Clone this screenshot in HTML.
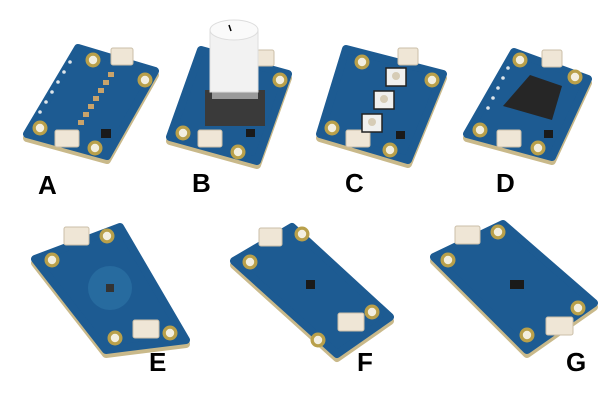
<!DOCTYPE html>
<html><head><meta charset="utf-8"><style>
html,body{margin:0;padding:0;background:#fff}
svg{display:block}
text{font-family:"Liberation Sans",sans-serif;font-weight:bold;fill:#000}
</style></head><body>
<svg width="600" height="400" viewBox="0 0 600 400">
<defs>
<g id="hole"><circle r="7.5" fill="#b9a04a"/><circle r="4.2" fill="#f3efe0"/></g>
</defs>
<g stroke-linejoin="round">
<polygon points="27,138 107,160 155,75 78,52" fill="#c9b98a" stroke="#c9b98a" stroke-width="8"/>
<polygon points="27,134 107,156 155,71 78,48" fill="#1d5b92" stroke="#1d5b92" stroke-width="8"/>
<polygon points="170,141 257,165 288,78 201,54" fill="#c9b98a" stroke="#c9b98a" stroke-width="8"/>
<polygon points="170,137 257,161 288,74 201,50" fill="#1d5b92" stroke="#1d5b92" stroke-width="8"/>
<polygon points="320,138 408,164 443,78 346,53" fill="#c9b98a" stroke="#c9b98a" stroke-width="8"/>
<polygon points="320,134 408,160 443,74 346,49" fill="#1d5b92" stroke="#1d5b92" stroke-width="8"/>
<polygon points="467,138 552,161 588,83 514,56" fill="#c9b98a" stroke="#c9b98a" stroke-width="8"/>
<polygon points="467,134 552,157 588,79 514,52" fill="#1d5b92" stroke="#1d5b92" stroke-width="8"/>
<polygon points="35,263 106,354 186,344 120,231" fill="#c9b98a" stroke="#c9b98a" stroke-width="8"/>
<polygon points="35,259 106,350 186,340 120,227" fill="#1d5b92" stroke="#1d5b92" stroke-width="8"/>
<polygon points="234,265 337,358 390,321 292,231" fill="#c9b98a" stroke="#c9b98a" stroke-width="8"/>
<polygon points="234,261 337,354 390,317 292,227" fill="#1d5b92" stroke="#1d5b92" stroke-width="8"/>
<polygon points="434,261 527,354 594,307 503,228" fill="#c9b98a" stroke="#c9b98a" stroke-width="8"/>
<polygon points="434,257 527,350 594,303 503,224" fill="#1d5b92" stroke="#1d5b92" stroke-width="8"/>
</g>
<g fill="#dfe6ea">
<circle cx="70" cy="62" r="1.8"/><circle cx="64" cy="72" r="1.8"/><circle cx="58" cy="82" r="1.8"/><circle cx="52" cy="92" r="1.8"/><circle cx="46" cy="102" r="1.8"/><circle cx="40" cy="112" r="1.8"/>
<circle cx="508" cy="68" r="1.8"/><circle cx="503" cy="78" r="1.8"/><circle cx="498" cy="88" r="1.8"/><circle cx="493" cy="98" r="1.8"/><circle cx="488" cy="108" r="1.8"/>
</g>
<use href="#hole" x="93" y="60"/><use href="#hole" x="145" y="80"/><use href="#hole" x="40" y="128"/><use href="#hole" x="95" y="148"/>
<use href="#hole" x="280" y="80"/><use href="#hole" x="183" y="133"/><use href="#hole" x="238" y="152"/>
<use href="#hole" x="362" y="62"/><use href="#hole" x="432" y="80"/><use href="#hole" x="332" y="128"/><use href="#hole" x="390" y="150"/>
<use href="#hole" x="520" y="60"/><use href="#hole" x="575" y="77"/><use href="#hole" x="480" y="130"/><use href="#hole" x="538" y="148"/>
<use href="#hole" x="52" y="260"/><use href="#hole" x="107" y="236"/><use href="#hole" x="170" y="333"/><use href="#hole" x="115" y="338"/>
<use href="#hole" x="250" y="262"/><use href="#hole" x="302" y="234"/><use href="#hole" x="372" y="312"/><use href="#hole" x="318" y="340"/>
<use href="#hole" x="448" y="260"/><use href="#hole" x="498" y="232"/><use href="#hole" x="578" y="308"/><use href="#hole" x="527" y="335"/>
<g fill="#efe6d6" stroke="#cbbfa8" stroke-width="1">
<rect x="111" y="48" width="22" height="17" rx="2"/><rect x="55" y="130" width="24" height="17" rx="2"/>
<rect x="257" y="50" width="17" height="16" rx="2"/><rect x="198" y="130" width="24" height="17" rx="2"/>
<rect x="398" y="48" width="20" height="17" rx="2"/><rect x="346" y="130" width="24" height="17" rx="2"/>
<rect x="542" y="50" width="20" height="17" rx="2"/><rect x="497" y="130" width="24" height="17" rx="2"/>
<rect x="64" y="227" width="25" height="18" rx="2"/><rect x="133" y="320" width="26" height="18" rx="2"/>
<rect x="259" y="228" width="23" height="18" rx="2"/><rect x="338" y="313" width="26" height="18" rx="2"/>
<rect x="455" y="226" width="25" height="18" rx="2"/><rect x="546" y="317" width="27" height="18" rx="2"/>
</g>
<g fill="#c9a36a"><rect x="108" y="72" width="6" height="5"/><rect x="103" y="80" width="6" height="5"/><rect x="98" y="88" width="6" height="5"/><rect x="93" y="96" width="6" height="5"/><rect x="88" y="104" width="6" height="5"/><rect x="83" y="112" width="6" height="5"/><rect x="78" y="120" width="6" height="5"/></g>
<rect x="101" y="129" width="10" height="9" fill="#1a1a1a"/>
<rect x="205" y="90" width="60" height="36" fill="#3a3a3a"/>
<rect x="212" y="85" width="46" height="14" fill="#9a9a9a"/>
<rect x="210" y="30" width="48" height="62" fill="#f2f2f2" stroke="#ddd"/>
<ellipse cx="234" cy="30" rx="24" ry="10" fill="#fafafa" stroke="#ddd"/>
<line x1="229" y1="25" x2="231" y2="31" stroke="#000" stroke-width="1.5"/>
<rect x="246" y="129" width="9" height="8" fill="#1a1a1a"/>
<g fill="#f0f0ee" stroke="#222" stroke-width="1.5">
<rect x="386" y="68" width="20" height="18"/><rect x="374" y="91" width="20" height="18"/><rect x="362" y="114" width="20" height="18"/></g>
<g fill="#d6ccb6"><circle cx="396" cy="76" r="4"/><circle cx="384" cy="99" r="4"/><circle cx="372" cy="122" r="4"/></g>
<rect x="396" y="131" width="9" height="8" fill="#1a1a1a"/>
<polygon points="530,75 562,86 552,120 503,106" fill="#262626"/>
<rect x="544" y="130" width="9" height="8" fill="#1a1a1a"/>
<circle cx="110" cy="288" r="22" fill="#2a6fa3" opacity="0.8"/>
<rect x="106" y="284" width="8" height="8" fill="#333"/>
<rect x="306" y="280" width="9" height="9" fill="#1a1a1a"/>
<rect x="510" y="280" width="14" height="9" fill="#1a1a1a"/>
<text x="38" y="194" font-size="26">A</text>
<text x="192" y="192" font-size="26">B</text>
<text x="345" y="192" font-size="26">C</text>
<text x="496" y="192" font-size="26">D</text>
<text x="149" y="371" font-size="26">E</text>
<text x="357" y="371" font-size="26">F</text>
<text x="566" y="371" font-size="26">G</text>
</svg>
</body></html>
